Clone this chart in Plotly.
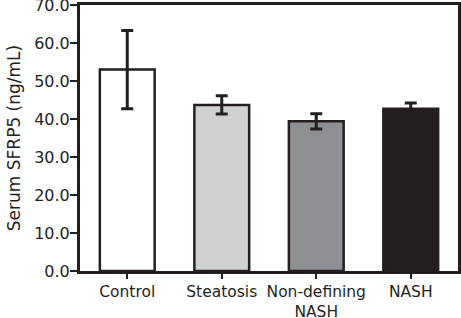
# Serum SFRP5 by group, bar chart with error bars
import plotly.graph_objects as go

# Data
groups = ['Control', 'Steatosis', 'Non-defining<br>NASH', 'NASH']
means = [53.0, 43.7, 39.4, 42.7]
errors = [10.3, 2.4, 2.0, 1.5]
fills = ['#ffffff', '#cfd0d2', '#8f9094', '#231f20']

ink = '#231f20'

fig = go.Figure()
fig.add_trace(
    go.Bar(
        x=groups,
        y=means,
        marker=dict(color=fills, line=dict(color=ink, width=2.5)),
        error_y=dict(type='data', array=errors, visible=True,
                     color=ink, thickness=3, width=6),
        width=0.58,
    )
)

fig.update_layout(
    width=461,
    height=318,
    margin=dict(l=80, r=3, t=5, b=47),
    paper_bgcolor='white',
    plot_bgcolor='white',
    showlegend=False,
    font=dict(family='DejaVu Sans', size=15, color=ink),
    xaxis=dict(
        range=[-0.5, 3.5],
        automargin=False,
        showline=True, linecolor=ink, linewidth=3, mirror=True,
        ticks='outside', ticklen=5, tickwidth=2, tickcolor=ink,
        showgrid=False,
        tickfont=dict(size=15.5),
        ticklabelstandoff=-1,
    ),
    yaxis=dict(
        range=[0, 70],
        dtick=10,
        tickformat='.1f',
        automargin=False,
        ticklabeloverflow='allow',
        showline=True, linecolor=ink, linewidth=3, mirror=True,
        ticks='outside', ticklen=7, tickwidth=2, tickcolor=ink,
        showgrid=False, zeroline=False,
        tickfont=dict(size=16),
        ticklabelstandoff=-3,
        title=dict(text='Serum SFRP5 (ng/mL)', font=dict(size=17), standoff=10),
    ),
)

# page body has an 8px default margin; drop it so the chart sits at 0,0
fig.write_html('out.html', config={'displayModeBar': False},
               post_script="document.body.style.margin='0';")
